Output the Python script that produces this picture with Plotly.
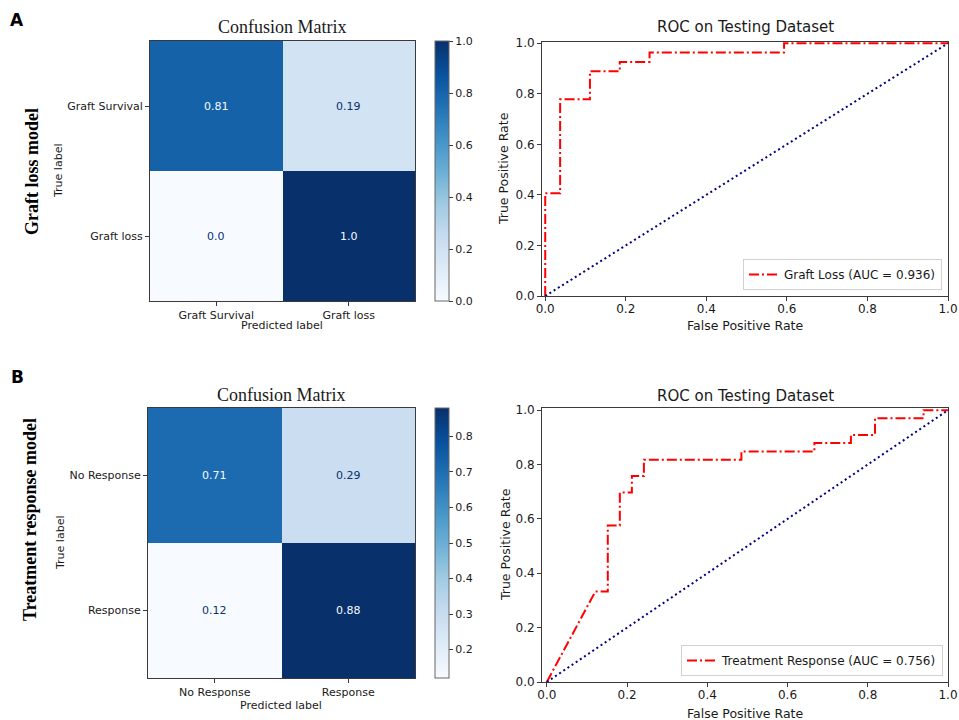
import plotly.graph_objects as go

# ---------------- Data ----------------
# Panel A: Graft loss model
cm_a_labels = ["Graft Survival", "Graft loss"]
cm_a_values = [[0.81, 0.19], [0.0, 1.0]]
roc_a_fpr = [0.0, 0.0, 0.037, 0.037, 0.111, 0.111, 0.185, 0.185, 0.259, 0.259, 0.593, 0.593, 1.0]
roc_a_tpr = [0.0, 0.407, 0.407, 0.778, 0.778, 0.889, 0.889, 0.926, 0.926, 0.963, 0.963, 1.0, 1.0]
roc_a_name = "Graft Loss (AUC = 0.936)"

# Panel B: Treatment response model
cm_b_labels = ["No Response", "Response"]
cm_b_values = [[0.71, 0.29], [0.12, 0.88]]
roc_b_fpr = [0.0, 0.121, 0.152, 0.152, 0.182, 0.182, 0.212, 0.212, 0.242, 0.242, 0.485, 0.485,
             0.667, 0.667, 0.758, 0.758, 0.818, 0.818, 0.939, 0.939, 1.0]
roc_b_tpr = [0.0, 0.333, 0.333, 0.576, 0.576, 0.697, 0.697, 0.758, 0.758, 0.818, 0.818, 0.848,
             0.848, 0.879, 0.879, 0.909, 0.909, 0.970, 0.970, 1.0, 1.0]
roc_b_name = "Treatment Response (AUC = 0.756)"

chance_x = [0.0, 1.0]
chance_y = [0.0, 1.0]

# ---------------- Style ----------------
W, H = 959, 720
SANS = "DejaVu Sans"
SERIF = "Liberation Serif, Times New Roman, serif"
TXT = "#1a1a1a"
AX = "#3a3a3a"
blues_hex = ["#f7fbff", "#deebf7", "#c6dbef", "#9ecae1", "#6baed6",
             "#4292c6", "#2171b5", "#08519c", "#08306b"]
blues = [[i / (len(blues_hex) - 1), c] for i, c in enumerate(blues_hex)]


def px_x(a, b):
    return [a / W, b / W]


def px_y(top, bottom):
    return [1 - bottom / H, 1 - top / H]


fig = go.Figure()

# --- Confusion matrices ---
cm_specs = [
    dict(labels=cm_a_labels, z=cm_a_values, xa="x", ya="y", zmin=0.0, zmax=1.0,
         top=41, bottom=301, dtick=0.2, tick0=0.0),
    dict(labels=cm_b_labels, z=cm_b_values, xa="x3", ya="y3", zmin=0.12, zmax=0.88,
         top=408, bottom=678, dtick=0.1, tick0=0.2),
]
for s in cm_specs:
    fig.add_trace(go.Heatmap(
        x=s["labels"], y=s["labels"], z=s["z"], xaxis=s["xa"], yaxis=s["ya"],
        colorscale=blues, zmin=s["zmin"], zmax=s["zmax"], hoverinfo="skip",
        colorbar=dict(
            x=435 / W, xanchor="left", xpad=0, ypad=0,
            thickness=14, thicknessmode="pixels",
            len=s["bottom"] - s["top"], lenmode="pixels",
            y=1 - (s["top"] + s["bottom"]) / 2 / H, yanchor="middle",
            outlinewidth=1, outlinecolor="#666",
            ticks="outside", ticklen=4, tickcolor=AX,
            tick0=s["tick0"], dtick=s["dtick"], tickformat=".1f",
            tickfont=dict(family=SANS, size=11, color=TXT),
        ),
    ))
    thresh = (s["zmin"] + s["zmax"]) / 2
    for i, row in enumerate(s["z"]):
        for j, v in enumerate(row):
            fig.add_annotation(
                x=s["labels"][j], y=s["labels"][i], xref=s["xa"], yref=s["ya"],
                text=str(v), showarrow=False,
                font=dict(family=SANS, size=11,
                          color=blues_hex[0] if v >= thresh else blues_hex[-1]),
            )

# --- ROC curves ---
dash_red = "10px,3px,2px,3px"
roc_specs = [
    dict(fpr=roc_a_fpr, tpr=roc_a_tpr, name=roc_a_name, xa="x2", ya="y2", legend="legend"),
    dict(fpr=roc_b_fpr, tpr=roc_b_tpr, name=roc_b_name, xa="x4", ya="y4", legend="legend2"),
]
for s in roc_specs:
    fig.add_trace(go.Scatter(
        x=s["fpr"], y=s["tpr"], mode="lines", name=s["name"],
        xaxis=s["xa"], yaxis=s["ya"], legend=s["legend"],
        line=dict(color="red", width=2, dash=dash_red), hoverinfo="skip",
    ))
    fig.add_trace(go.Scatter(
        x=chance_x, y=chance_y, mode="lines", showlegend=False,
        xaxis=s["xa"], yaxis=s["ya"],
        line=dict(color="navy", width=2, dash="2px,3px"), hoverinfo="skip",
    ))

cm_axis = dict(showline=True, mirror=True, linecolor=AX, linewidth=1,
               ticks="outside", ticklen=4, tickcolor=AX, showgrid=False, zeroline=False,
               tickfont=dict(family=SANS, size=11, color=TXT))
roc_axis = dict(showline=True, mirror=True, linecolor=AX, linewidth=1,
                ticks="outside", ticklen=4, tickcolor=AX, showgrid=False, zeroline=False,
                dtick=0.2, tick0=0, tickformat=".1f",
                tickfont=dict(family=SANS, size=12, color=TXT))

legend_style = dict(bgcolor="rgba(255,255,255,0.9)", bordercolor="#d0d0d0", borderwidth=1,
                    font=dict(family=SANS, size=12, color=TXT),
                    xanchor="right", yanchor="bottom", itemwidth=30)

fig.update_layout(
    width=W, height=H, margin=dict(l=0, r=0, t=0, b=0, autoexpand=False),
    paper_bgcolor="white", plot_bgcolor="white",
    xaxis=dict(domain=px_x(150, 415), anchor="y", **cm_axis),
    yaxis=dict(domain=px_y(41, 301), anchor="x", autorange="reversed", **cm_axis),
    xaxis3=dict(domain=px_x(148, 415), anchor="y3", **cm_axis),
    yaxis3=dict(domain=px_y(408, 678), anchor="x3", autorange="reversed", **cm_axis),
    xaxis2=dict(domain=px_x(542, 948), anchor="y2", range=[-0.008, 1.0],
                ticklabelstandoff=-2, **roc_axis),
    yaxis2=dict(domain=px_y(42, 296), anchor="x2", range=[0, 1.005], **roc_axis),
    xaxis4=dict(domain=px_x(542, 948), anchor="y4", range=[-0.012, 1.0],
                ticklabelstandoff=-2, **roc_axis),
    yaxis4=dict(domain=px_y(408, 682), anchor="x4", range=[0, 1.008], **roc_axis),
    legend=dict(x=942 / W, y=1 - 290 / H, **legend_style),
    legend2=dict(x=943 / W, y=1 - 676 / H, **legend_style),
)


def ann(text, x, y, size, family=SANS, angle=0, bold=False, xanchor="center"):
    fig.add_annotation(
        text=f"<b>{text}</b>" if bold else text,
        x=x / W, y=1 - y / H, xref="paper", yref="paper",
        showarrow=False, textangle=angle, xanchor=xanchor, yanchor="middle",
        font=dict(family=family, size=size, color="black" if bold else TXT),
    )


# Panel letters and row labels
ann("A", 17, 20, 17, bold=True)
ann("B", 17, 377, 17, bold=True)
ann("Graft loss model", 32, 172, 18, family=SERIF, angle=-90, bold=True)
ann("Treatment response model", 30, 520, 18, family=SERIF, angle=-90, bold=True)

# Confusion matrix titles and labels
ann("Confusion Matrix", 282, 27, 18, family=SERIF)
ann("Confusion Matrix", 281, 395, 18, family=SERIF)
ann("True label", 58, 171, 11, angle=-90)
ann("True label", 60, 543, 11, angle=-90)
ann("Predicted label", 282, 326, 11)
ann("Predicted label", 281, 705, 11)

# ROC titles and labels
ann("ROC on Testing Dataset", 745, 27, 15)
ann("ROC on Testing Dataset", 745, 396, 15)
ann("False Positive Rate", 745, 326, 12.5)
ann("False Positive Rate", 745, 713, 12.5)
ann("True Positive Rate", 503, 169, 12.5, angle=-90)
ann("True Positive Rate", 505, 545, 12.5, angle=-90)

fig.write_html(
    "out.html",
    config={"displayModeBar": False},
    post_script="document.body.style.margin='0';document.body.style.overflow='hidden';",
)
